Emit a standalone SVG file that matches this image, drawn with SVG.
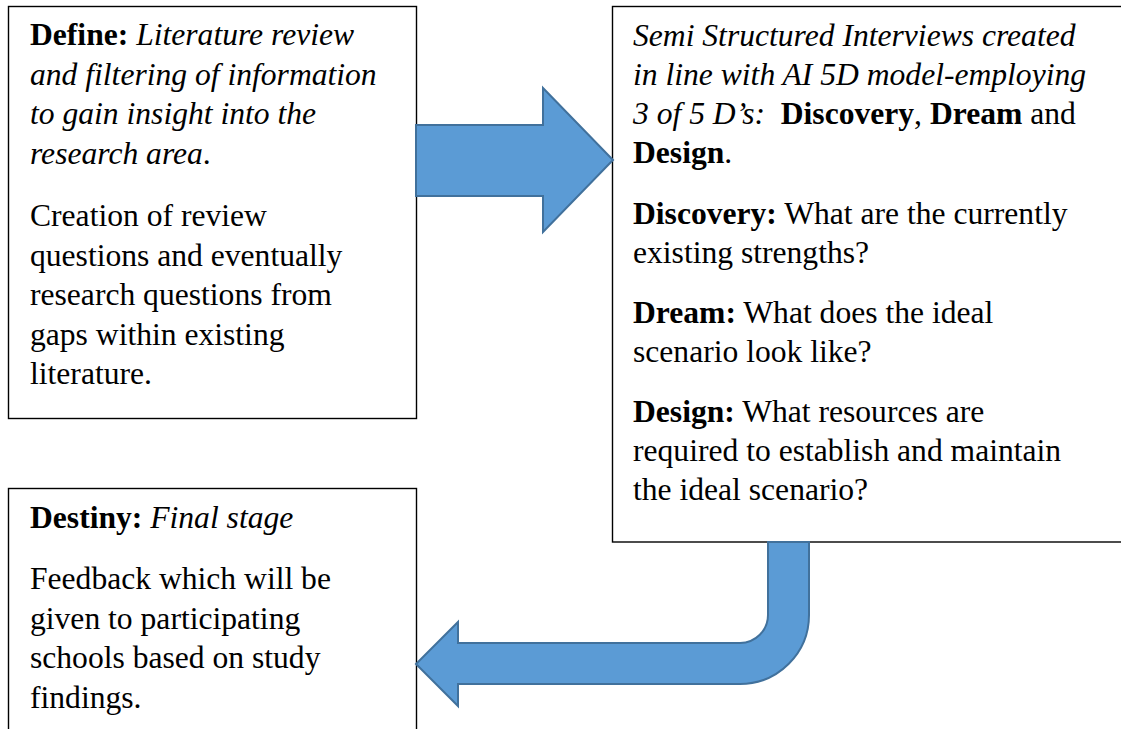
<svg xmlns="http://www.w3.org/2000/svg" width="1121" height="729" viewBox="0 0 1121 729">
  <style>
    .box { fill: #ffffff; stroke: #000000; stroke-width: 1.4; }
    .arrow { fill: #5B9BD5; stroke: #41719C; stroke-width: 2; stroke-linejoin: miter; }
    text { font-family: 'Liberation Serif', 'Times New Roman', serif; font-size: 31.6px; fill: #000000; }
    .b { font-weight: bold; }
    .i { font-style: italic; }
  </style>
  <rect width="1121" height="729" fill="#ffffff"/>

  <!-- Define stage -->
  <g id="define">
    <rect class="box" x="8.5" y="6.5" width="408" height="412"/>
    <text xml:space="preserve">
      <tspan x="30" y="45"><tspan class="b">Define:</tspan> <tspan class="i">Literature review</tspan></tspan>
      <tspan x="30" y="84.6" class="i">and filtering of information</tspan>
      <tspan x="30" y="124.2" class="i">to gain insight into the</tspan>
      <tspan x="30" y="163.8"><tspan class="i">research area</tspan>.</tspan>
      <tspan x="30" y="226">Creation of review</tspan>
      <tspan x="30" y="265.6">questions and eventually</tspan>
      <tspan x="30" y="305.2">research questions from</tspan>
      <tspan x="30" y="344.8">gaps within existing</tspan>
      <tspan x="30" y="384.4">literature.</tspan>
    </text>
  </g>

  <!-- Interview design stage (Discovery, Dream, Design) -->
  <g id="interviews">
    <rect class="box" x="612.5" y="6.5" width="520" height="535.5"/>
    <text xml:space="preserve">
      <tspan x="633" y="45.5" class="i">Semi Structured Interviews created</tspan>
      <tspan x="633" y="84.5" class="i">in line with AI 5D model-employing</tspan>
      <tspan x="633" y="123.5"><tspan class="i">3 of 5 D’s:</tspan>  <tspan class="b">Discovery</tspan>, <tspan class="b">Dream</tspan> and</tspan>
      <tspan x="633" y="162.5"><tspan class="b">Design</tspan>.</tspan>
      <tspan x="633" y="223.5"><tspan class="b">Discovery:</tspan> What are the currently</tspan>
      <tspan x="633" y="262.5">existing strengths?</tspan>
      <tspan x="633" y="322.5"><tspan class="b">Dream:</tspan> What does the ideal</tspan>
      <tspan x="633" y="361.5">scenario look like?</tspan>
      <tspan x="633" y="422"><tspan class="b">Design:</tspan> What resources are</tspan>
      <tspan x="633" y="461">required to establish and maintain</tspan>
      <tspan x="633" y="500">the ideal scenario?</tspan>
    </text>
  </g>

  <!-- Destiny stage -->
  <g id="destiny">
    <rect class="box" x="8.5" y="488.5" width="408" height="250"/>
    <text xml:space="preserve">
      <tspan x="30" y="528"><tspan class="b">Destiny:</tspan> <tspan class="i">Final stage</tspan></tspan>
      <tspan x="30" y="589">Feedback which will be</tspan>
      <tspan x="30" y="628.5">given to participating</tspan>
      <tspan x="30" y="668">schools based on study</tspan>
      <tspan x="30" y="707.5">findings.</tspan>
    </text>
  </g>

  <!-- Block arrows between stages -->
  <g id="connectors">
    <path class="arrow" d="M416,125 H543 V88 L613,160 L543,232 V196 H416 Z"/>
    <path class="arrow" d="M768,542 V615 A28,28 0 0 1 740,643 H458 V622 L416,664 L458,706 V684 H740 A69,69 0 0 0 809,615 V542 Z"/>
  </g>
</svg>
